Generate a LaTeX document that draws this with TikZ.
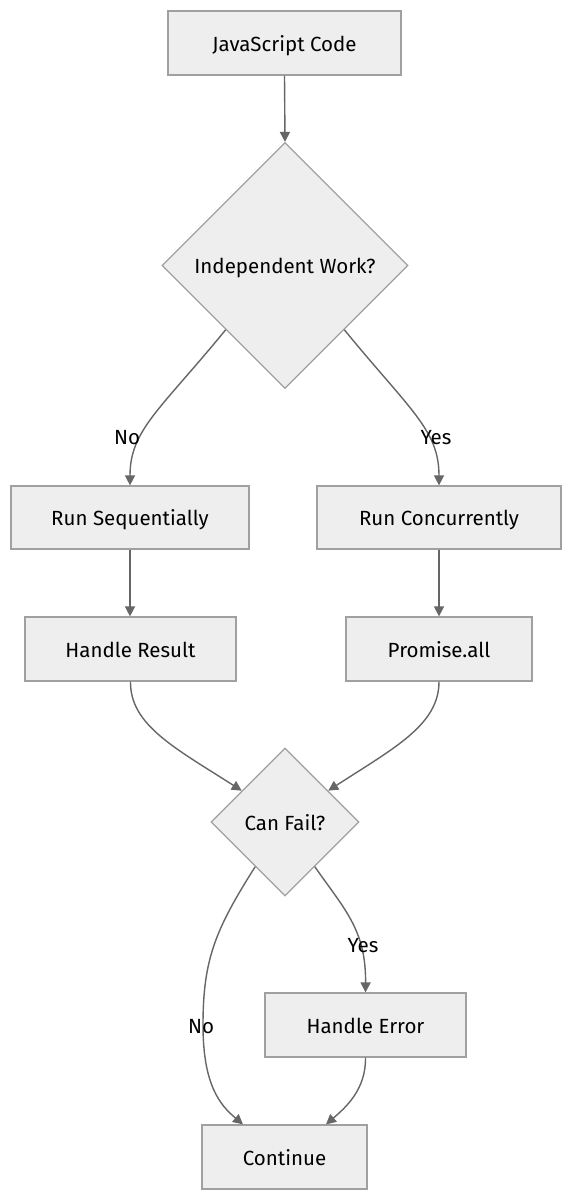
\documentclass[tikz,border=0pt]{standalone}
\usepackage{fontspec}
\setmainfont{Fira Sans}
\usetikzlibrary{shapes.geometric,arrows.meta,calc}
\definecolor{boxfill}{HTML}{EEEEEE}
\definecolor{boxline}{HTML}{A0A0A0}
\definecolor{edge}{HTML}{666666}
\tikzset{
  box/.style={draw=boxline, fill=boxfill, line width=1.2pt, inner sep=0pt, text height=16pt, text depth=0pt, font=\fontsize{20.5}{24}\selectfont},
  dia/.style={draw=boxline, fill=boxfill, line width=1.2pt, diamond, aspect=1, inner sep=0pt, text height=16pt, text depth=0pt, font=\fontsize{20.5}{24}\selectfont},
  conn/.style={draw=edge, line width=1.4pt, -{Triangle[length=10pt,width=10pt]}},
  lbl/.style={font=\fontsize{20.5}{24}\selectfont, inner sep=1pt, text height=16pt, text depth=0pt},
}
\begin{document}
\begin{tikzpicture}[x=1pt,y=-1pt]
\useasboundingbox (0,0) rectangle (572,1200);
\node[box, minimum width=233pt, minimum height=64pt] (js) at (284.5,43) {JavaScript Code};
\node[dia, minimum width=246pt, minimum height=246pt] (d1) at (285,265.5) {Independent Work?};
\node[box, minimum width=238pt, minimum height=63pt] (rs) at (130,517.5) {Run Sequentially};
\node[box, minimum width=244pt, minimum height=63pt] (rc) at (439,517.5) {Run Concurrently};
\node[box, minimum width=211pt, minimum height=64pt] (hr) at (130.5,649) {Handle Result};
\node[box, minimum width=186pt, minimum height=64pt] (pa) at (439,649) {Promise.all};
\node[dia, minimum width=148pt, minimum height=148pt] (d2) at (285,822) {Can Fail?};
\node[box, minimum width=201pt, minimum height=64pt] (he) at (365.5,1025) {Handle Error};
\node[box, minimum width=165pt, minimum height=64pt] (co) at (284.5,1157) {Continue};

\coordinate (d1sw) at ($(d1.west)!0.52!(d1.south)$);
\coordinate (d1se) at ($(d1.east)!0.52!(d1.south)$);
\coordinate (d2nw) at ($(d2.west)!0.42!(d2.north)$);
\coordinate (d2ne) at ($(d2.east)!0.42!(d2.north)$);
\coordinate (d2sw) at ($(d2.west)!0.6!(d2.south)$);
\coordinate (d2se) at ($(d2.east)!0.6!(d2.south)$);
\coordinate (nomid) at (203,1025);

\draw[conn] (js.south) -- (d1.north);
\draw[conn] (d1sw) .. controls (160,410) and (rs.north|-0,430) .. (rs.north);
\draw[conn] (d1se) .. controls (410,410) and (rc.north|-0,430) .. (rc.north);
\draw[conn] (rs.south) -- (hr.north-|rs.south);
\draw[conn] (rc.south) -- (pa.north-|rc.south);
\draw[conn] (hr.south) .. controls (130,725) and (175,748) .. (d2nw);
\draw[conn] (pa.south) .. controls (439,725) and (394,748) .. (d2ne);
\draw[conn] (d2sw) .. controls (215,930) and (203,960) .. (nomid) .. controls (203,1085) and (220,1105) .. (co.north west-|243,0);
\draw[conn] (d2se) .. controls (345,910) and (366,930) .. (he.north);
\draw[conn] (he.south) .. controls (366,1090) and (345,1108) .. (co.north east-|326,0);

\node[lbl] (l1) at (127,436) {No};
\node[lbl] (l2) at (436,436) {Yes};
\node[lbl] (l3) at (363,944) {Yes};
\node[lbl] (l4) at (201,1025) {No};
\end{tikzpicture}
\end{document}
